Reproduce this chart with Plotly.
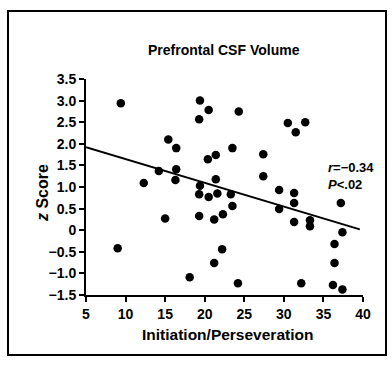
import plotly.graph_objects as go

# Data
initiation = [9.4, 9.0, 12.3, 15.4, 16.4, 14.2, 16.4, 16.3, 15.0, 18.1,
              19.4, 20.5, 19.3, 24.3, 23.5, 21.4, 20.4, 21.4, 19.4, 19.3,
              20.5, 21.6, 23.3, 23.5, 19.3, 21.2, 22.3, 22.2, 21.2, 24.2,
              27.4, 27.4, 30.5, 32.7, 31.5, 29.4, 31.3, 31.3, 37.2, 29.4,
              31.3, 33.3, 33.3, 37.4, 36.4, 36.4, 32.2, 36.2, 37.4]
z_score = [2.94, -0.42, 1.09, 2.10, 1.90, 1.37, 1.41, 1.16, 0.27, -1.09,
           3.00, 2.78, 2.57, 2.75, 1.90, 1.74, 1.64, 1.18, 1.03, 0.83,
           0.77, 0.85, 0.83, 0.56, 0.33, 0.25, 0.37, -0.44, -0.76, -1.23,
           1.76, 1.25, 2.48, 2.50, 2.27, 0.93, 0.86, 0.63, 0.63, 0.49,
           0.19, 0.23, 0.09, -0.05, -0.32, -0.76, -1.23, -1.27, -1.37]

fit_intercept = 2.197
fit_slope = -0.055
fit_x = [5.0, 39.6]
fit_y = [fit_intercept + fit_slope * v for v in fit_x]

x_ticks = [5, 10, 15, 20, 25, 30, 35, 40]
y_ticks = [3.5, 3.0, 2.5, 2.0, 1.5, 1.0, 0.5, 0, -0.5, -1.0, -1.5]
y_tick_text = ["3.5", "3.0", "2.5", "2.0", "1.5", "1.0", "0.5", "0",
               "\u22120.5", "\u22121.0", "\u22121.5"]

FONT = "Liberation Sans Narrow, Arial Narrow, Liberation Sans, Arial, sans-serif"

# plot area in pixels: x 86..363, y 79..295
L, R, T, B = 86, 363, 79, 295
W, H = R - L, B - T


def px(x):
    return (x - L) / W


def py(y):
    return (B - y) / H


fig = go.Figure()
fig.add_trace(go.Scatter(x=fit_x, y=fit_y, mode="lines",
                         line=dict(color="black", width=2), hoverinfo="skip",
                         showlegend=False))
fig.add_trace(go.Scatter(x=initiation, y=z_score, mode="markers",
                         marker=dict(color="black", size=8.5),
                         showlegend=False))

fig.update_layout(
    width=392, height=371,
    margin=dict(l=L, r=392 - R, t=T, b=371 - B),
    paper_bgcolor="white", plot_bgcolor="white",
    font=dict(family=FONT, color="black"),
    xaxis=dict(range=[5, 40], tickvals=x_ticks, showgrid=False, zeroline=False,
               automargin=False,
               showline=True, linecolor="black", linewidth=2,
               ticks="outside", ticklen=5, tickwidth=2, tickcolor="black",
               tickfont=dict(size=14, family=FONT, weight="bold")),
    yaxis=dict(range=[-1.5, 3.5], tickvals=y_ticks, ticktext=y_tick_text,
               showgrid=False, zeroline=False, automargin=False,
               showline=True, linecolor="black", linewidth=2,
               ticks="outside", ticklen=5, tickwidth=2, tickcolor="black",
               tickfont=dict(size=14, family=FONT, weight="bold")),
    annotations=[
        dict(text="Prefrontal CSF Volume", x=px(224), y=py(50), xref="paper", yref="paper",
             showarrow=False, xanchor="center", yanchor="middle",
             font=dict(size=14, family=FONT, weight="bold")),
        dict(text="Initiation/Perseveration", x=px(227), y=py(334), xref="paper", yref="paper",
             showarrow=False, xanchor="center", yanchor="middle",
             font=dict(size=15.5, family=FONT, weight="bold")),
        dict(text="<i>z</i> Score", x=px(42), y=py(193), xref="paper", yref="paper",
             textangle=-90, showarrow=False, xanchor="center", yanchor="middle",
             font=dict(size=16, family=FONT, weight="bold")),
        dict(text="<i>r</i>=\u22120.34<br><i>P</i>&lt;.02", x=px(326),
             y=py(176), xref="paper", yref="paper", align="left",
             xanchor="left", yanchor="middle", showarrow=False,
             font=dict(size=13, family=FONT, weight="bold")),
    ],
    shapes=[
        dict(type="rect", xref="paper", yref="paper",
             x0=px(8), x1=px(386), y0=py(355), y1=py(11),
             line=dict(color="black", width=2)),
    ],
)

fig.write_html("out.html", config={"displayModeBar": False},
               post_script="document.body.style.margin='0';")
